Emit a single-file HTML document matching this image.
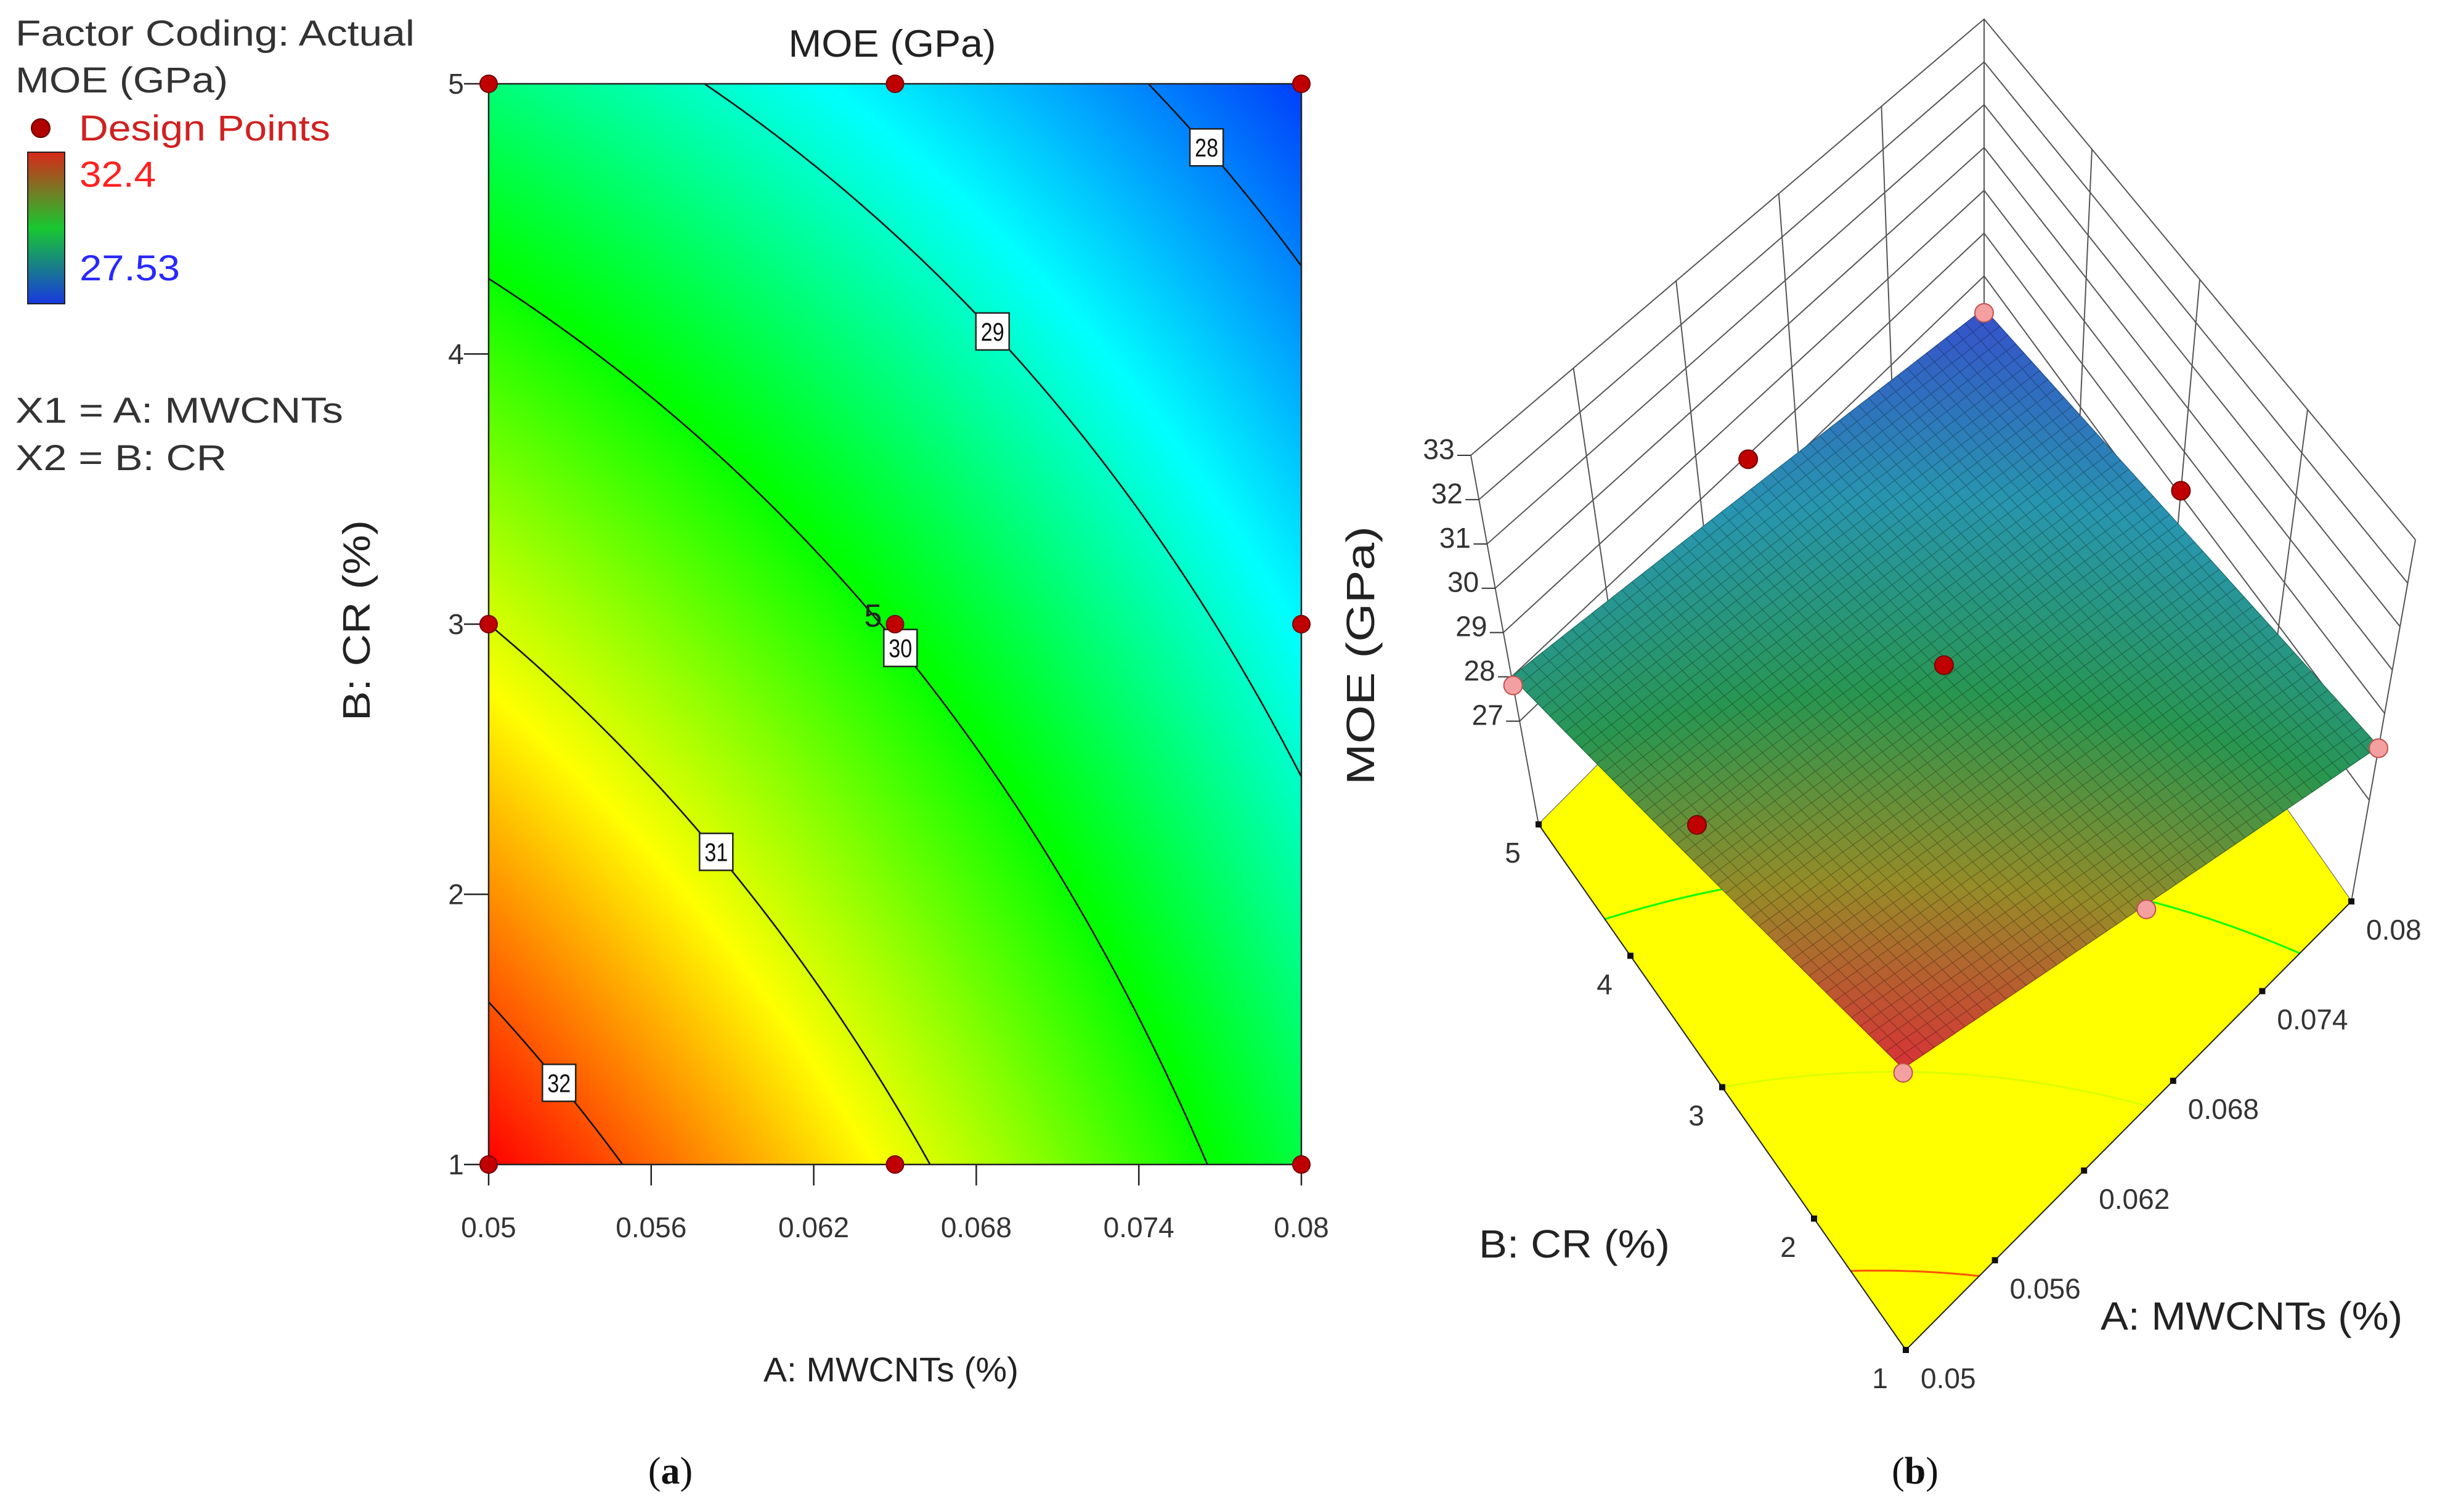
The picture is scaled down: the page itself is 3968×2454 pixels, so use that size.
<!DOCTYPE html>
<html><head><meta charset="utf-8"><style>
html,body{margin:0;padding:0;background:#fff;}
#wrap{position:relative;width:3968px;height:2454px;overflow:hidden;font-family:"Liberation Sans",sans-serif;}
#heat{position:absolute;left:793px;top:136px;}
#svg{position:absolute;left:0;top:0;}
</style></head><body>
<div id="wrap">
<canvas id="heat" width="1319" height="1754"></canvas>
<svg id="svg" width="3968" height="2454" xmlns="http://www.w3.org/2000/svg"></svg>
</div>
<script>
// ---- data ----
const A_TICKS=[0.05,0.056,0.062,0.068,0.074,0.08];
const A_TICK_LABELS=["0.05","0.056","0.062","0.068","0.074","0.08"];
const B_TICKS=[1,2,3,4,5];
const B_TICK_LABELS=["1","2","3","4","5"];
const Z_TICKS=[27,28,29,30,31,32,33];
const LEVELS=[28,29,30,31,32];
const LEVEL_LABEL_A=[0.0765,0.0686,0.0652,0.0584,0.0526];
const COEF=[29.96,-1.14,-1.26,0.24,-0.10,-0.10]; // c, A, B, AB, A2, B2 (coded)
const DESIGN_A=[0.05,0.065,0.08,0.05,0.065,0.08,0.05,0.065,0.08];
const DESIGN_B=[1,1,1,3,3,3,5,5,5];
const DESIGN_Z=[32.3,31.0,29.6,32.0,30.6,29.5,29.2,29.3,27.5];
const Z_MIN=27.53, Z_MAX=32.4;

const NS="http://www.w3.org/2000/svg";
const svg=document.getElementById('svg');
function el(tag,attrs,parent){const e=document.createElementNS(NS,tag);for(const k in attrs)e.setAttribute(k,attrs[k]);(parent||svg).appendChild(e);return e;}
function txt(s,attrs,parent){const e=el('text',attrs,parent);e.textContent=s;return e;}
function model(a,b){const u=(a-0.065)/0.015,v=(b-3)/2;return COEF[0]+COEF[1]*u+COEF[2]*v+COEF[3]*u*v+COEF[4]*u*u+COEF[5]*v*v;}
function lerpStops(stops,t){t=Math.max(0,Math.min(1,t));for(let i=1;i<stops.length;i++){if(t<=stops[i][0]){const s0=stops[i-1],s1=stops[i];const f=(t-s0[0])/(s1[0]-s0[0]);return [0,1,2].map(k=>Math.round(s0[1][k]+(s1[1][k]-s0[1][k])*f));}}return stops[stops.length-1][1];}
const MAP2D=[[0,[0,50,250]],[0.25,[0,255,255]],[0.5,[0,255,0]],[0.75,[255,255,0]],[1,[255,0,0]]];
const MAP3D=[[0,[55,75,205]],[0.25,[40,150,175]],[0.5,[40,150,80]],[0.75,[150,140,40]],[1,[215,50,55]]];
function tOf(z){return (z-Z_MIN)/(Z_MAX-Z_MIN);}
function rgb(c){return 'rgb('+c[0]+','+c[1]+','+c[2]+')';}

// ---- 2D axes ----
const PX0=793,PX1=2112,PY0=136,PY1=1890;
function xA(a){return PX0+(a-0.05)/0.03*(PX1-PX0);}
function yB(b){return PY1-(b-1)/4*(PY1-PY0);}

// heatmap
(function(){const cv=document.getElementById('heat');const ctx=cv.getContext('2d');const W=cv.width,H=cv.height;const img=ctx.createImageData(W,H);
for(let j=0;j<H;j++){const b=1+(PY1-(PY0+j))/(PY1-PY0)*4;for(let i=0;i<W;i++){const a=0.05+(i/(PX1-PX0))*0.03;const c=lerpStops(MAP2D,tOf(model(a,b)));const p=(j*W+i)*4;img.data[p]=c[0];img.data[p+1]=c[1];img.data[p+2]=c[2];img.data[p+3]=255;}}
ctx.putImageData(img,0,0);})();

function contourSegs(level,N){const segs=[];const da=0.03/N,db=4/N;
for(let i=0;i<N;i++)for(let j=0;j<N;j++){const a0=0.05+i*da,b0=1+j*db;
const P=[[a0,b0],[a0+da,b0],[a0+da,b0+db],[a0,b0+db]];const V=P.map(p=>model(p[0],p[1])-level);const pts=[];
for(let k=0;k<4;k++){const k2=(k+1)%4;if((V[k]>0)!==(V[k2]>0)){const f=V[k]/(V[k]-V[k2]);pts.push([P[k][0]+(P[k2][0]-P[k][0])*f,P[k][1]+(P[k2][1]-P[k][1])*f]);}}
if(pts.length===2)segs.push(pts);else if(pts.length===4){segs.push([pts[0],pts[1]]);segs.push([pts[2],pts[3]]);}}
return segs;}
function solveB(a,level){let lo=1,hi=5;for(let k=0;k<50;k++){const m=(lo+hi)/2;if(model(a,m)>level)lo=m;else hi=m;}return (lo+hi)/2;}

const g2=el('g',{});
LEVELS.forEach((lv,idx)=>{const segs=contourSegs(lv,90);let d='';segs.forEach(s=>{d+='M'+xA(s[0][0]).toFixed(1)+' '+yB(s[0][1]).toFixed(1)+'L'+xA(s[1][0]).toFixed(1)+' '+yB(s[1][1]).toFixed(1);});
const p=el('path',{d:d,stroke:'#111',fill:'none','stroke-width':2.6},g2);


});
el('rect',{x:PX0,y:PY0,width:PX1-PX0,height:PY1-PY0,fill:'none',stroke:'#222','stroke-width':2.5,},g2);
LEVELS.forEach((lv,idx)=>{const a=LEVEL_LABEL_A[idx];const b=solveB(a,lv);const cx=xA(a),cy=yB(b);
const gg=el('g',{},g2);


el('rect',{x:cx-27,y:cy-30,width:54,height:60,fill:'#fff',stroke:'#222','stroke-width':2.5},gg);
txt(String(lv),{x:cx,y:cy+15,'font-size':42,'text-anchor':'middle',fill:'#111',textLength:38,lengthAdjust:'spacingAndGlyphs'},gg);});
A_TICKS.forEach((a,i)=>{const x=xA(a);
const t=el('line',{x1:x,y1:PY1,x2:x,y2:PY1+34,stroke:'#222','stroke-width':2.5},g2);


const l=txt(A_TICK_LABELS[i],{x:x,y:2008,'font-size':46,'text-anchor':'middle',fill:'#333'},g2);

});
B_TICKS.forEach((b,i)=>{const y=yB(b);
const t=el('line',{x1:PX0-40,y1:y,x2:PX0,y2:y,stroke:'#222','stroke-width':2.5},g2);


const l=txt(B_TICK_LABELS[i],{x:740,y:y+16,'font-size':46,'text-anchor':'middle',fill:'#333'},g2);

});
DESIGN_A.forEach((a,i)=>{const c=el('circle',{cx:xA(a),cy:yB(DESIGN_B[i]),r:14,fill:'#c00000',stroke:'#700','stroke-width':2},g2);

});
txt('5',{x:1417,y:1017,'font-size':52,'text-anchor':'middle',fill:'#222',},g2);
txt('MOE (GPa)',{x:1448,y:92,'font-size':62,'text-anchor':'middle',fill:'#222',textLength:337,lengthAdjust:'spacingAndGlyphs',},g2);
txt('A: MWCNTs (%)',{x:1446,y:2242,'font-size':56,'text-anchor':'middle',fill:'#222',textLength:414,lengthAdjust:'spacingAndGlyphs',},g2);
txt('B: CR (%)',{x:0,y:0,'font-size':62,'text-anchor':'middle',fill:'#222',textLength:326,lengthAdjust:'spacingAndGlyphs',transform:'translate(600,1007) rotate(-90)',},g2);

const gl=el('g',{});
txt('Factor Coding: Actual',{x:25,y:74,'font-size':58,fill:'#333',textLength:648,lengthAdjust:'spacingAndGlyphs'},gl);
txt('MOE (GPa)',{x:25,y:150,'font-size':58,fill:'#333',textLength:345,lengthAdjust:'spacingAndGlyphs'},gl);
el('circle',{cx:66,cy:208,r:15,fill:'#b00000',stroke:'#600','stroke-width':2,},gl);
txt('Design Points',{x:128,y:228,'font-size':58,fill:'#d02020',textLength:408,lengthAdjust:'spacingAndGlyphs',},gl);
const defs=el('defs',{});
const lg=el('linearGradient',{id:'cbar',x1:0,y1:0,x2:0,y2:1},defs);
el('stop',{offset:'0','stop-color':'#d82818'},lg);el('stop',{offset:'0.5','stop-color':'#18c830'},lg);el('stop',{offset:'1','stop-color':'#1838e0'},lg);
el('rect',{x:45,y:247,width:60,height:246,fill:'url(#cbar)',stroke:'#222','stroke-width':2,},gl);
txt('32.4',{x:129,y:303,'font-size':58,fill:'#ff2020',textLength:124,lengthAdjust:'spacingAndGlyphs',},gl);
txt('27.53',{x:129,y:455,'font-size':58,fill:'#2828ff',textLength:163,lengthAdjust:'spacingAndGlyphs',},gl);
txt('X1 = A: MWCNTs',{x:25,y:686,'font-size':58,fill:'#333',textLength:532,lengthAdjust:'spacingAndGlyphs',},gl);
txt('X2 = B: CR',{x:25,y:763,'font-size':58,fill:'#333',textLength:343,lengthAdjust:'spacingAndGlyphs',},gl);

// ---- 3D ----
const F=[3093,2191],R=[3816,1463],L=[2497,1338];
const VL=[-110,-599],VR=[104,-587],VB=[0,-579];const VF=[VL[0]+VR[0]-VB[0],VL[1]+VR[1]-VB[1]];
function P3(a,b,fr){const u=(a-0.05)/0.03,w=(b-1)/4;
const fx=F[0]+u*(R[0]-F[0])+w*(L[0]-F[0]),fy=F[1]+u*(R[1]-F[1])+w*(L[1]-F[1]);
const vx=VF[0]+u*(VR[0]-VF[0])+w*(VL[0]-VF[0]),vy=VF[1]+u*(VR[1]-VF[1])+w*(VL[1]-VF[1]);
return [fx+fr*vx,fy+fr*vy];}
function axisFrac(z){return (z-24.67)/(33-24.67);}
function surfFrac(z){return (z-26)/8.5;}
function pts(arr){return arr.map(p=>p[0].toFixed(1)+','+p[1].toFixed(1)).join(' ');}
const g3=el('g',{});
const gw=el('g',{},g3);
A_TICKS.forEach(a=>{const p0=P3(a,5,0),p1=P3(a,5,1);el('line',{x1:p0[0],y1:p0[1],x2:p1[0],y2:p1[1],stroke:'#555','stroke-width':2},gw);});
B_TICKS.forEach(b=>{const p0=P3(0.08,b,0),p1=P3(0.08,b,1);el('line',{x1:p0[0],y1:p0[1],x2:p1[0],y2:p1[1],stroke:'#555','stroke-width':2},gw);});
[24.67].concat(Z_TICKS).forEach(z=>{const f=axisFrac(z);const a0=P3(0.05,5,f),a1=P3(0.08,5,f),a2=P3(0.08,1,f);
el('polyline',{points:pts([a0,a1,a2]),fill:'none',stroke:'#555','stroke-width':2},gw);});
Z_TICKS.forEach(z=>{const p=P3(0.05,5,axisFrac(z));
el('line',{x1:p[0]-22,y1:p[1],x2:p[0],y2:p[1],stroke:'#333','stroke-width':2},g3);
const l=txt(String(z),{x:p[0]-52,y:p[1]+6,'font-size':46,'text-anchor':'middle',fill:'#333'},g3);

});
el('polygon',{points:pts([P3(0.05,1,0),P3(0.08,1,0),P3(0.08,5,0),P3(0.05,5,0)]),fill:'#ffff00',stroke:'none',},g3);
LEVELS.forEach(lv=>{const segs=contourSegs(lv,60);let d='';segs.forEach(s=>{const p0=P3(s[0][0],s[0][1],0),p1=P3(s[1][0],s[1][1],0);d+='M'+p0[0].toFixed(1)+' '+p0[1].toFixed(1)+'L'+p1[0].toFixed(1)+' '+p1[1].toFixed(1);});
const p=el('path',{d:d,fill:'none',stroke:rgb(lerpStops(MAP2D,tOf(lv))),'stroke-width':3},g3);

});
const pF=P3(0.05,1,0),pR=P3(0.08,1,0),pL=P3(0.05,5,0);
el('polyline',{points:pts([pL,pF,pR]),fill:'none',stroke:'#222','stroke-width':2,},g3);
A_TICKS.forEach((a,i)=>{const p=P3(a,1,0);el('rect',{x:p[0]-5,y:p[1]-5,width:10,height:10,fill:'#111'},g3);
const l=txt(A_TICK_LABELS[i],{x:p[0]+24,y:p[1]+62,'font-size':46,fill:'#333'},g3);

});
B_TICKS.forEach((b,i)=>{const p=P3(0.05,b,0);el('rect',{x:p[0]-5,y:p[1]-5,width:10,height:10,fill:'#111'},g3);
const l=txt(B_TICK_LABELS[i],{x:p[0]-42,y:p[1]+62,'font-size':46,'text-anchor':'middle',fill:'#333'},g3);

});
const N=48;const quads=[];
for(let i=0;i<N;i++)for(let j=0;j<N;j++)quads.push([i,j]);
quads.sort((q1,q2)=>(q2[0]+q2[1])-(q1[0]+q1[1]));
const gs=el('g',{},g3);
quads.forEach(q=>{const a0=0.05+q[0]*0.03/N,a1=a0+0.03/N,b0=1+q[1]*4/N,b1=b0+4/N;
const cs=[[a0,b0],[a1,b0],[a1,b1],[a0,b1]];const pp=cs.map(c=>P3(c[0],c[1],surfFrac(model(c[0],c[1]))));
const c=lerpStops(MAP3D,tOf(model((a0+a1)/2,(b0+b1)/2)));
const dk=c.map(v=>Math.round(v*0.72));
el('polygon',{points:pts(pp),fill:rgb(c),stroke:rgb(dk),'stroke-width':1.2},gs);});
DESIGN_A.forEach((a,i)=>{const b=DESIGN_B[i],z=DESIGN_Z[i];const p=P3(a,b,surfFrac(z));const above=z>=model(a,b);
const c=el('circle',{cx:p[0],cy:p[1],r:15,fill:above?'#c00000':'#f4a0a0',stroke:above?'#700':'#c05050','stroke-width':2},g3);

});
txt('MOE (GPa)',{x:0,y:0,'font-size':64,'text-anchor':'middle',fill:'#222',textLength:420,lengthAdjust:'spacingAndGlyphs',transform:'translate(2230,1064) rotate(-90)',},g3);
txt('B: CR (%)',{x:2555,y:2041,'font-size':64,'text-anchor':'middle',fill:'#222',textLength:310,lengthAdjust:'spacingAndGlyphs',},g3);
txt('A: MWCNTs (%)',{x:3654,y:2158,'font-size':64,'text-anchor':'middle',fill:'#222',textLength:490,lengthAdjust:'spacingAndGlyphs',},g3);

function cap(x,letter,name){const t=el('text',{x:x,y:2408,'font-size':62,'text-anchor':'middle',fill:'#111','font-family':'"Liberation Serif",serif',});
t.appendChild(document.createTextNode('('));const ts=el('tspan',{'font-weight':'bold'},t);ts.textContent=letter;t.appendChild(document.createTextNode(')'));}
cap(1088,'a','caption-a');cap(3108,'b','caption-b');
</script>
</body></html>
